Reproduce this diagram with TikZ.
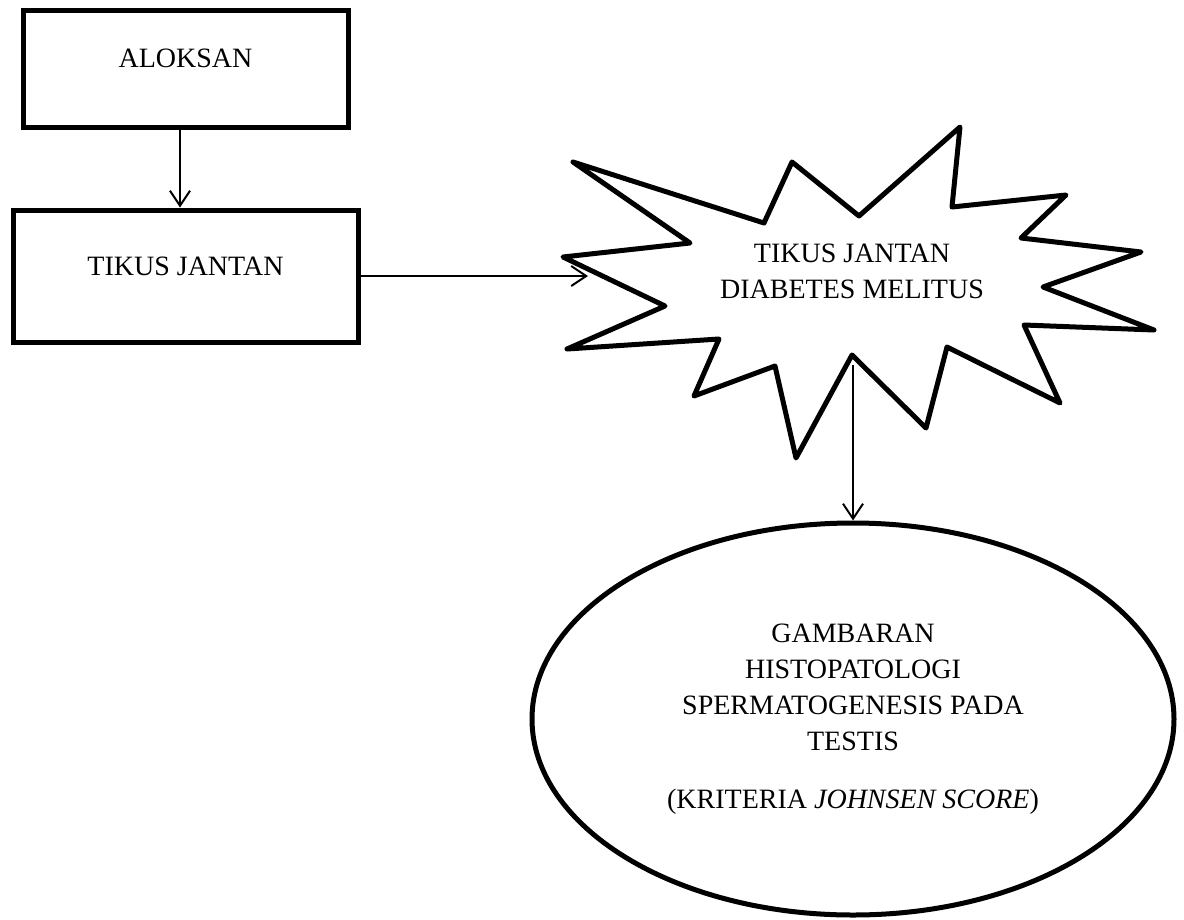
\documentclass[tikz,border=0pt]{standalone}
\usepackage{fontspec}
\setmainfont{Liberation Serif}
\usetikzlibrary{arrows.meta,shapes.geometric}

\begin{document}
\begin{tikzpicture}[x=1pt,y=-1pt,>={Straight Barb[length=15pt,width=20pt]},
  every node/.style={font=\fontsize{28}{36}\selectfont},
  box/.style={draw,line width=5pt,inner sep=0pt},
  arr/.style={->,line width=2pt}]
  \useasboundingbox (0,0) rectangle (1184,919);
  \node[box,minimum width=325pt,text height=57pt,text depth=60pt] (aloksan) at (185.5,68.5) {ALOKSAN};
  \node[box,minimum width=345pt,text height=65pt,text depth=67pt] (tikus) at (185.5,276) {TIKUS JANTAN};
  % bintang diabetes
  \draw[line width=5pt,line join=round] (573,162) -- (764,223) -- (792,162) -- (859,216) -- (960,127)
    -- (952,207) -- (1066,195) -- (1021,238) -- (1141,252) -- (1043,287) -- (1154,330) -- (1024,325)
    -- (1060,403) -- (947,347) -- (926,428) -- (852,355) -- (796,458) -- (775,366) -- (694,396)
    -- (719,339) -- (567,349) -- (665,306) -- (563,257) -- (690,243) -- cycle;
  \node[align=center,inner sep=0pt] (dm) at (852,271) {TIKUS JANTAN\\DIABETES MELITUS};
  \coordinate (dmin) at (588,276);
  \coordinate (dmout) at (853,365);
  \node[ellipse,draw,line width=5pt,minimum width=642pt,minimum height=392pt,align=center] (hasil) at (853,719)
    {GAMBARAN\\HISTOPATOLOGI\\SPERMATOGENESIS PADA\\TESTIS\\[22pt](KRITERIA \textit{JOHNSEN SCORE})};
  \draw[arr] ([xshift=-5.5pt]aloksan.south) -- ([xshift=-5.5pt]tikus.north);
  \draw[arr] (tikus.east) -- (dmin);
  \draw[arr] (dmout) -- (hasil.north);
\end{tikzpicture}
\end{document}
